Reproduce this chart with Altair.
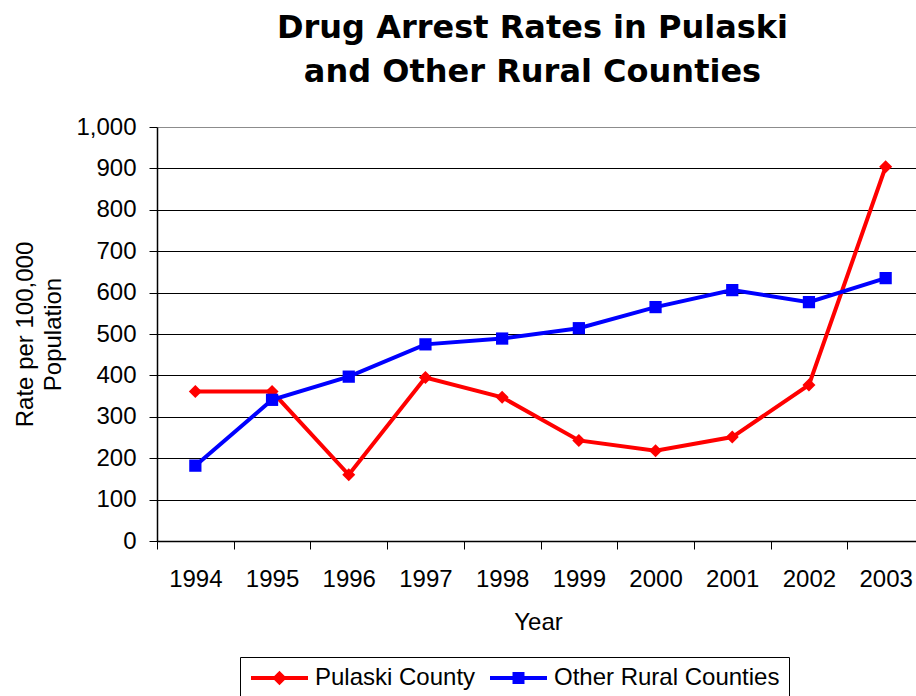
import altair as alt
import pandas as pd

years = ["1994", "1995", "1996", "1997", "1998", "1999", "2000", "2001", "2002", "2003"]
pulaski = [361, 361, 160, 395, 347, 243, 218, 251, 377, 904]
other = [182, 341, 397, 475, 489, 514, 565, 606, 577, 635]
series = ["Pulaski County", "Other Rural Counties"]
colors = ["#FF0000", "#0000FF"]
marker_shapes = ["diamond", "square"]
marker_sizes = [170, 150]
legend_shapes = [
    "M-1,0L1,0M0,-0.155L0.155,0L0,0.155L-0.155,0Z",
    "M-1,0L1,0M-0.14,-0.14L0.14,-0.14L0.14,0.14L-0.14,0.14Z",
]
y_ticks = [0, 100, 200, 300, 400, 500, 600, 700, 800, 900, 1000]

rows = []
for s, vals in zip(series, [pulaski, other]):
    for yr, v in zip(years, vals):
        rows.append({"Year": yr, "Series": s, "Rate": v})
df = pd.DataFrame(rows)

FONT = "Liberation Sans"

x_enc = alt.X(
    "Year:O",
    sort=years,
    scale=alt.Scale(type="band", paddingInner=0, paddingOuter=0, range=[0, 767]),
    axis=alt.Axis(
        title="Year",
        tickBand="extent",
        labelAngle=0,
        grid=False,
        domainColor="#000000",
        domainWidth=1.5,
        tickColor="#000000",
        tickSize=8,
        labelFont=FONT,
        labelFontSize=24,
        labelColor="#000000",
        labelBaseline="alphabetic",
        labelPadding=37,
        titleFont=FONT,
        titleFontSize=24,
        titleFontWeight="normal",
        titleColor="#000000",
        titleX=381,
        titleY=88,
        titleBaseline="alphabetic",
        titleAlign="center",
    ),
)

y_enc = alt.Y(
    "Rate:Q",
    scale=alt.Scale(domain=[0, 1000], nice=False),
    axis=alt.Axis(
        title=["Rate per 100,000", "Population"],
        values=y_ticks,
        format=",d",
        grid=True,
        gridColor={"condition": {"test": "datum.value === 1000", "value": "#8c8c8c"}, "value": "#000000"},
        gridWidth=1,
        domainColor="#000000",
        domainWidth=1.5,
        tickColor="#000000",
        tickSize=8,
        labelFont=FONT,
        labelFontSize=24,
        labelColor="#000000",
        labelPadding=13,
        titleFont=FONT,
        titleFontSize=24,
        titleFontWeight="normal",
        titleColor="#000000",
        titleAngle=270,
        titleX=-125,
        titleY=207,
        titleBaseline="alphabetic",
        titleAlign="center",
        titleLineHeight=28,
    ),
)

layers = []
for s, c, shp, sz in zip(series, colors, marker_shapes, marker_sizes):
    base = alt.Chart(df).transform_filter(alt.datum.Series == s)
    layers.append(base.mark_line(strokeWidth=4, color=c).encode(x=x_enc, y=y_enc))
    layers.append(
        base.mark_point(shape=shp, filled=True, size=sz, opacity=1, color=c).encode(x=x_enc, y=y_enc)
    )

leg = alt.Legend(
    title=None,
    orient="none",
    legendX=83,
    legendY=530,
    direction="horizontal",
    symbolSize=3249,
    symbolStrokeWidth=4,
    symbolOpacity=1,
    clipHeight=24,
    labelFont=FONT,
    labelFontSize=24,
    labelColor="#000000",
    labelOffset=5,
    columnPadding=12,
    padding=9,
    strokeColor="#000000",
    fillColor="#FFFFFF",
    labelLimit=400,
)

legend_layer = alt.Chart(df).mark_point(opacity=0, strokeWidth=4).encode(
    x=x_enc,
    y=y_enc,
    fill=alt.Fill("Series:N", scale=alt.Scale(domain=series, range=colors), legend=leg),
    stroke=alt.Stroke("Series:N", scale=alt.Scale(domain=series, range=colors), legend=leg),
    shape=alt.Shape("Series:N", scale=alt.Scale(domain=series, range=legend_shapes), legend=leg),
)
layers.append(legend_layer)

chart = alt.layer(*layers).properties(
    width=759,
    height=414,
    title=alt.TitleParams(
        text=["Drug Arrest Rates in Pulaski", "and Other Rural Counties"],
        font="DejaVu Sans",
        fontSize=32,
        fontWeight="bold",
        lineHeight=44,
        anchor="middle",
        color="#000000",
        dx=-4,
        offset=26,
    ),
    autosize=alt.AutoSizeParams(type="none"),
    padding={"left": 157, "top": 127, "right": 0, "bottom": 155},
    background="#FFFFFF",
).configure_view(stroke=None)

chart.save("out.html", embed_options={"renderer": "svg", "actions": False})
